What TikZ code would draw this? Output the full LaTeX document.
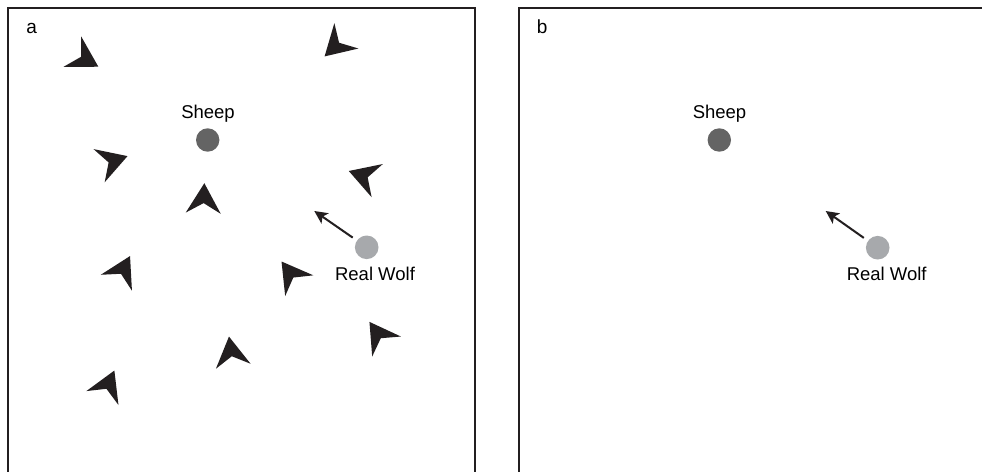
\documentclass[tikz,border=0pt]{standalone}
\usepackage{fontspec}
\setmainfont{Liberation Sans}
\usetikzlibrary{arrows.meta}
\definecolor{inkc}{HTML}{231F20}
\definecolor{sheepc}{HTML}{646464}
\definecolor{wolfc}{HTML}{A7A9AC}
\tikzset{
  frame/.style={draw=inkc, line width=1.8pt},
  boid/.pic={\fill[inkc] (15,0) -- (-15,17.5) -- (-4.9,0) -- (-15,-17.5) -- cycle;},
  sheepdot/.style={circle, fill=sheepc, minimum size=23.4pt, inner sep=0pt},
  wolfdot/.style={circle, fill=wolfc, minimum size=23.6pt, inner sep=0pt},
  lbl/.style={inner sep=0pt, anchor=base, font=\fontsize{18.5}{22}\selectfont},
  panellbl/.style={inner sep=0pt, anchor=base, font=\fontsize{19}{22}\selectfont},
  move/.style={draw=inkc, line width=2pt, shorten <=5pt, -{Stealth[length=13pt,width=12.5pt,inset=3pt]}}
}
\begin{document}
\begin{tikzpicture}[x=1pt, y=-1pt]
\clip (0,0) rectangle (982,471);
\fill[white] (0,0) rectangle (982,471);
% frames
\draw[frame] (8.3,8.3) rectangle (475,500);
\draw[frame] (519.3,8.3) rectangle (986,500);
\node[panellbl] (la) at (31.7,33.3) {a};
\node[panellbl] (lb) at (542.2,33.3) {b};
% panel a
\pic[rotate=-30.2] at (85.4,59.2) {boid};
\pic[rotate=-136.6] at (335.5,46.1) {boid};
\pic[rotate=18.6] at (113.3,160.9) {boid};
\pic[rotate=87.9] at (203.8,198.2) {boid};
\pic[rotate=161.3] at (363,175.8) {boid};
\pic[rotate=126.3] at (290.4,273.6) {boid};
\pic[rotate=62.9] at (123.2,269.4) {boid};
\pic[rotate=98.2] at (231.1,351.4) {boid};
\pic[rotate=66.5] at (108.4,384.3) {boid};
\pic[rotate=124.8] at (378,334.2) {boid};
\node[sheepdot] (sheepa) at (207.7,140) {};
\node[lbl] (sheepalbl) at (208,118.8) {Sheep};
\node[wolfdot] (wolfa) at (366.7,247.3) {};
\node[lbl] (wolfalbl) at (375,280.5) {Real Wolf};
\coordinate (tipa) at (314.3,211);
\draw[move] (wolfa) -- (tipa);
% panel b
\node[sheepdot] (sheepb) at (719.3,140) {};
\node[lbl] (sheepblbl) at (719.5,118.8) {Sheep};
\node[wolfdot] (wolfb) at (877.7,247.7) {};
\node[lbl] (wolfblbl) at (886.7,280.5) {Real Wolf};
\coordinate (tipb) at (825.7,211);
\draw[move] (wolfb) -- (tipb);
\end{tikzpicture}
\end{document}
